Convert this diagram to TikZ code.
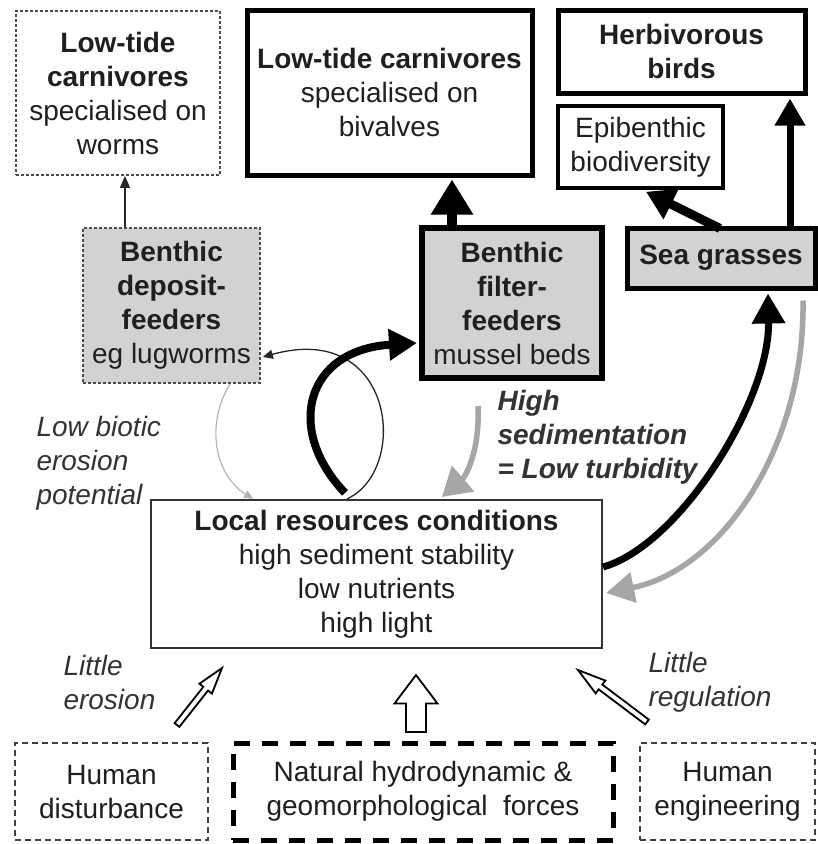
\documentclass[tikz,border=0pt]{standalone}
\usepackage{fontspec}
\setmainfont{Liberation Sans}
\usetikzlibrary{arrows.meta,calc}
\begin{document}
\begin{tikzpicture}[x=1pt,y=-1pt,
  every node/.style={font=\fontsize{28}{34}\selectfont, text=black!88},
  box/.style={rectangle, draw, align=center, inner sep=0pt},
  dotbox/.style={box, draw=black!70, line width=1.8pt, dash pattern=on 3pt off 2pt},
  thinbox/.style={box, draw=black!80, line width=2.2pt},
  midbox/.style={box, draw=black, line width=3.5pt},
  heavybox/.style={box, draw=black, line width=5pt},
  shaded/.style={fill=gray!35},
  humanbox/.style={box, draw=black!75, line width=2pt, dash pattern=on 6pt off 4pt},
  forcebox/.style={box, draw=black, line width=5pt, dash pattern=on 16pt off 12pt},
  note/.style={anchor=west, align=left, font=\fontsize{28}{34}\selectfont\itshape, text=black!80},
  boldnote/.style={note, font=\fontsize{28}{34}\selectfont\bfseries\itshape},
  grayflow/.style={draw=black!35, line width=5.5pt},
  openarrow/.style={draw=black, line width=1.8pt, fill=white, line join=miter}
]
\path[use as bounding box, fill=white] (0,0) rectangle (818,844);

% ---- consumers ----
\node[dotbox, minimum width=204pt, minimum height=164pt] (worms) at (118,93)
  {\textbf{Low-tide}\\\textbf{carnivores}\\specialised on\\worms};
\node[heavybox, minimum width=285pt, minimum height=165pt] (bivalves) at (389.5,92.5)
  {\textbf{Low-tide carnivores}\\specialised on\\bivalves};
\node[heavybox, minimum width=247pt, minimum height=83pt] (birds) at (681.5,51.5)
  {\textbf{Herbivorous}\\\textbf{birds}};
\node[midbox, minimum width=165pt, minimum height=82pt] (epi) at (640.5,147)
  {Epibenthic\\biodiversity};

% ---- engineers ----
\node[dotbox, shaded, minimum width=177pt, minimum height=155pt] (deposit) at (171.5,305.5)
  {\textbf{Benthic}\\\textbf{deposit-}\\\textbf{feeders}\\eg lugworms};
\node[heavybox, shaded, line width=6pt, minimum width=180pt, minimum height=150pt] (filter) at (512,303)
  {\textbf{Benthic}\\\textbf{filter-}\\\textbf{feeders}\\mussel beds};
\node[heavybox, shaded, minimum width=188pt, minimum height=60pt] (sea) at (721,258)
  {\textbf{Sea grasses}};

% ---- local conditions ----
\node[thinbox, minimum width=451pt, minimum height=148pt] (local) at (376.5,574)
  {\textbf{Local resources conditions}\\high sediment stability\\low nutrients\\high light};

% ---- external drivers ----
\node[humanbox, minimum width=193pt, minimum height=97pt] (hd) at (111.5,791.5)
  {Human\\disturbance};
\node[forcebox, minimum width=380pt, minimum height=97pt] (nat) at (423,791.5)
  {Natural hydrodynamic \&\\geomorphological\ \ forces};
\node[humanbox, minimum width=175pt, minimum height=97pt] (he) at (727.5,791.5)
  {Human\\engineering};

% ---- labels ----
\node[note] (lbe) at (33,463) {Low biotic\\erosion\\potential};
\node[boldnote] (hsl) at (494,437) {High\\sedimentation\\= Low turbidity};
\node[note] (ler) at (60,682) {Little\\erosion};
\node[note] (lrg) at (645,682) {Little\\regulation};

% ---- straight trophic links ----
\coordinate (d1) at ([xshift=-46.5pt]deposit.north);
\draw[line width=1.5pt, draw=black!85, -{Triangle[width=10pt,length=12pt]}] (d1) -- (d1 |- worms.south);

\coordinate (f1) at ([xshift=-60pt]filter.north);
\draw[line width=10pt, -{Triangle[width=40pt,length=35pt]}] ([yshift=-3pt]f1) -- ([yshift=-2pt]f1 |- bivalves.south);

\coordinate (s1) at ([xshift=69pt]sea.north);
\draw[line width=7pt, -{Triangle[width=29pt,length=27pt]}] ([yshift=-3pt]s1) -- ([yshift=-3pt]s1 |- birds.south);

\draw[line width=9pt, -{Triangle[width=32pt,length=28pt]}] ([xshift=-1pt,yshift=-3pt]sea.north) -- ([xshift=5.5pt,yshift=-2pt]epi.south);

% ---- feedback loops ----
% deposit feeders: thin loops
\draw[line width=1.1pt, draw=black!30, -{Triangle[width=8pt,length=9pt]}]
  ([xshift=58.5pt]deposit.south) .. controls (205,425) and (215,475) .. ([xshift=-123.5pt]local.north);
\draw[line width=1.3pt, draw=black!85, -{Triangle[width=9pt,length=10pt]}]
  ([xshift=-29.5pt]local.north) .. controls (410,470) and (395,320) .. ([xshift=2pt,yshift=-51.5pt]deposit.east);
% filter feeders
\draw[line width=8pt, -{Triangle[width=30pt,length=28pt]}]
  ([xshift=-31.5pt,yshift=6pt]local.north) .. controls (285,430) and (305,350) .. ([xshift=-2pt,yshift=-40pt]filter.west);
\draw[grayflow, -{Triangle[width=33pt,length=28pt]}]
  ([xshift=-34pt,yshift=-25pt]filter.south) .. controls (480,450) and (466,476) .. ([xshift=65.5pt,yshift=2pt]local.north);
% sea grasses
\draw[line width=7pt, -{Triangle[width=32pt,length=30pt]}]
  ([yshift=7pt]local.east) .. controls (680,545) and (770,400) .. ([xshift=47pt,yshift=-3pt]sea.south);
\draw[grayflow, -{Triangle[width=30pt,length=28pt]}]
  ([xshift=82pt,yshift=-10pt]sea.south) .. controls (805,450) and (720,570) .. ([xshift=3pt,yshift=-19pt]local.east);

% ---- driver arrows ----
\begin{scope}[shift={(199.5,696.5)}, rotate=51.7]
  \draw[openarrow] (-36.3,-3) -- (10,-3) -- (10,-8) -- (36.3,0) -- (10,8) -- (10,3) -- (-36.3,3) -- cycle;
\end{scope}
\begin{scope}[shift={(416,703.5)}, rotate=90]
  \draw[openarrow] (-28.5,-10) -- (0,-10) -- (0,-21.5) -- (28.5,0) -- (0,21.5) -- (0,10) -- (-28.5,10) -- cycle;
\end{scope}
\begin{scope}[shift={(612.5,696)}, rotate=143]
  \draw[openarrow] (-43.2,-3) -- (15,-3) -- (15,-8) -- (43.2,0) -- (15,8) -- (15,3) -- (-43.2,3) -- cycle;
\end{scope}
\end{tikzpicture}
\end{document}
